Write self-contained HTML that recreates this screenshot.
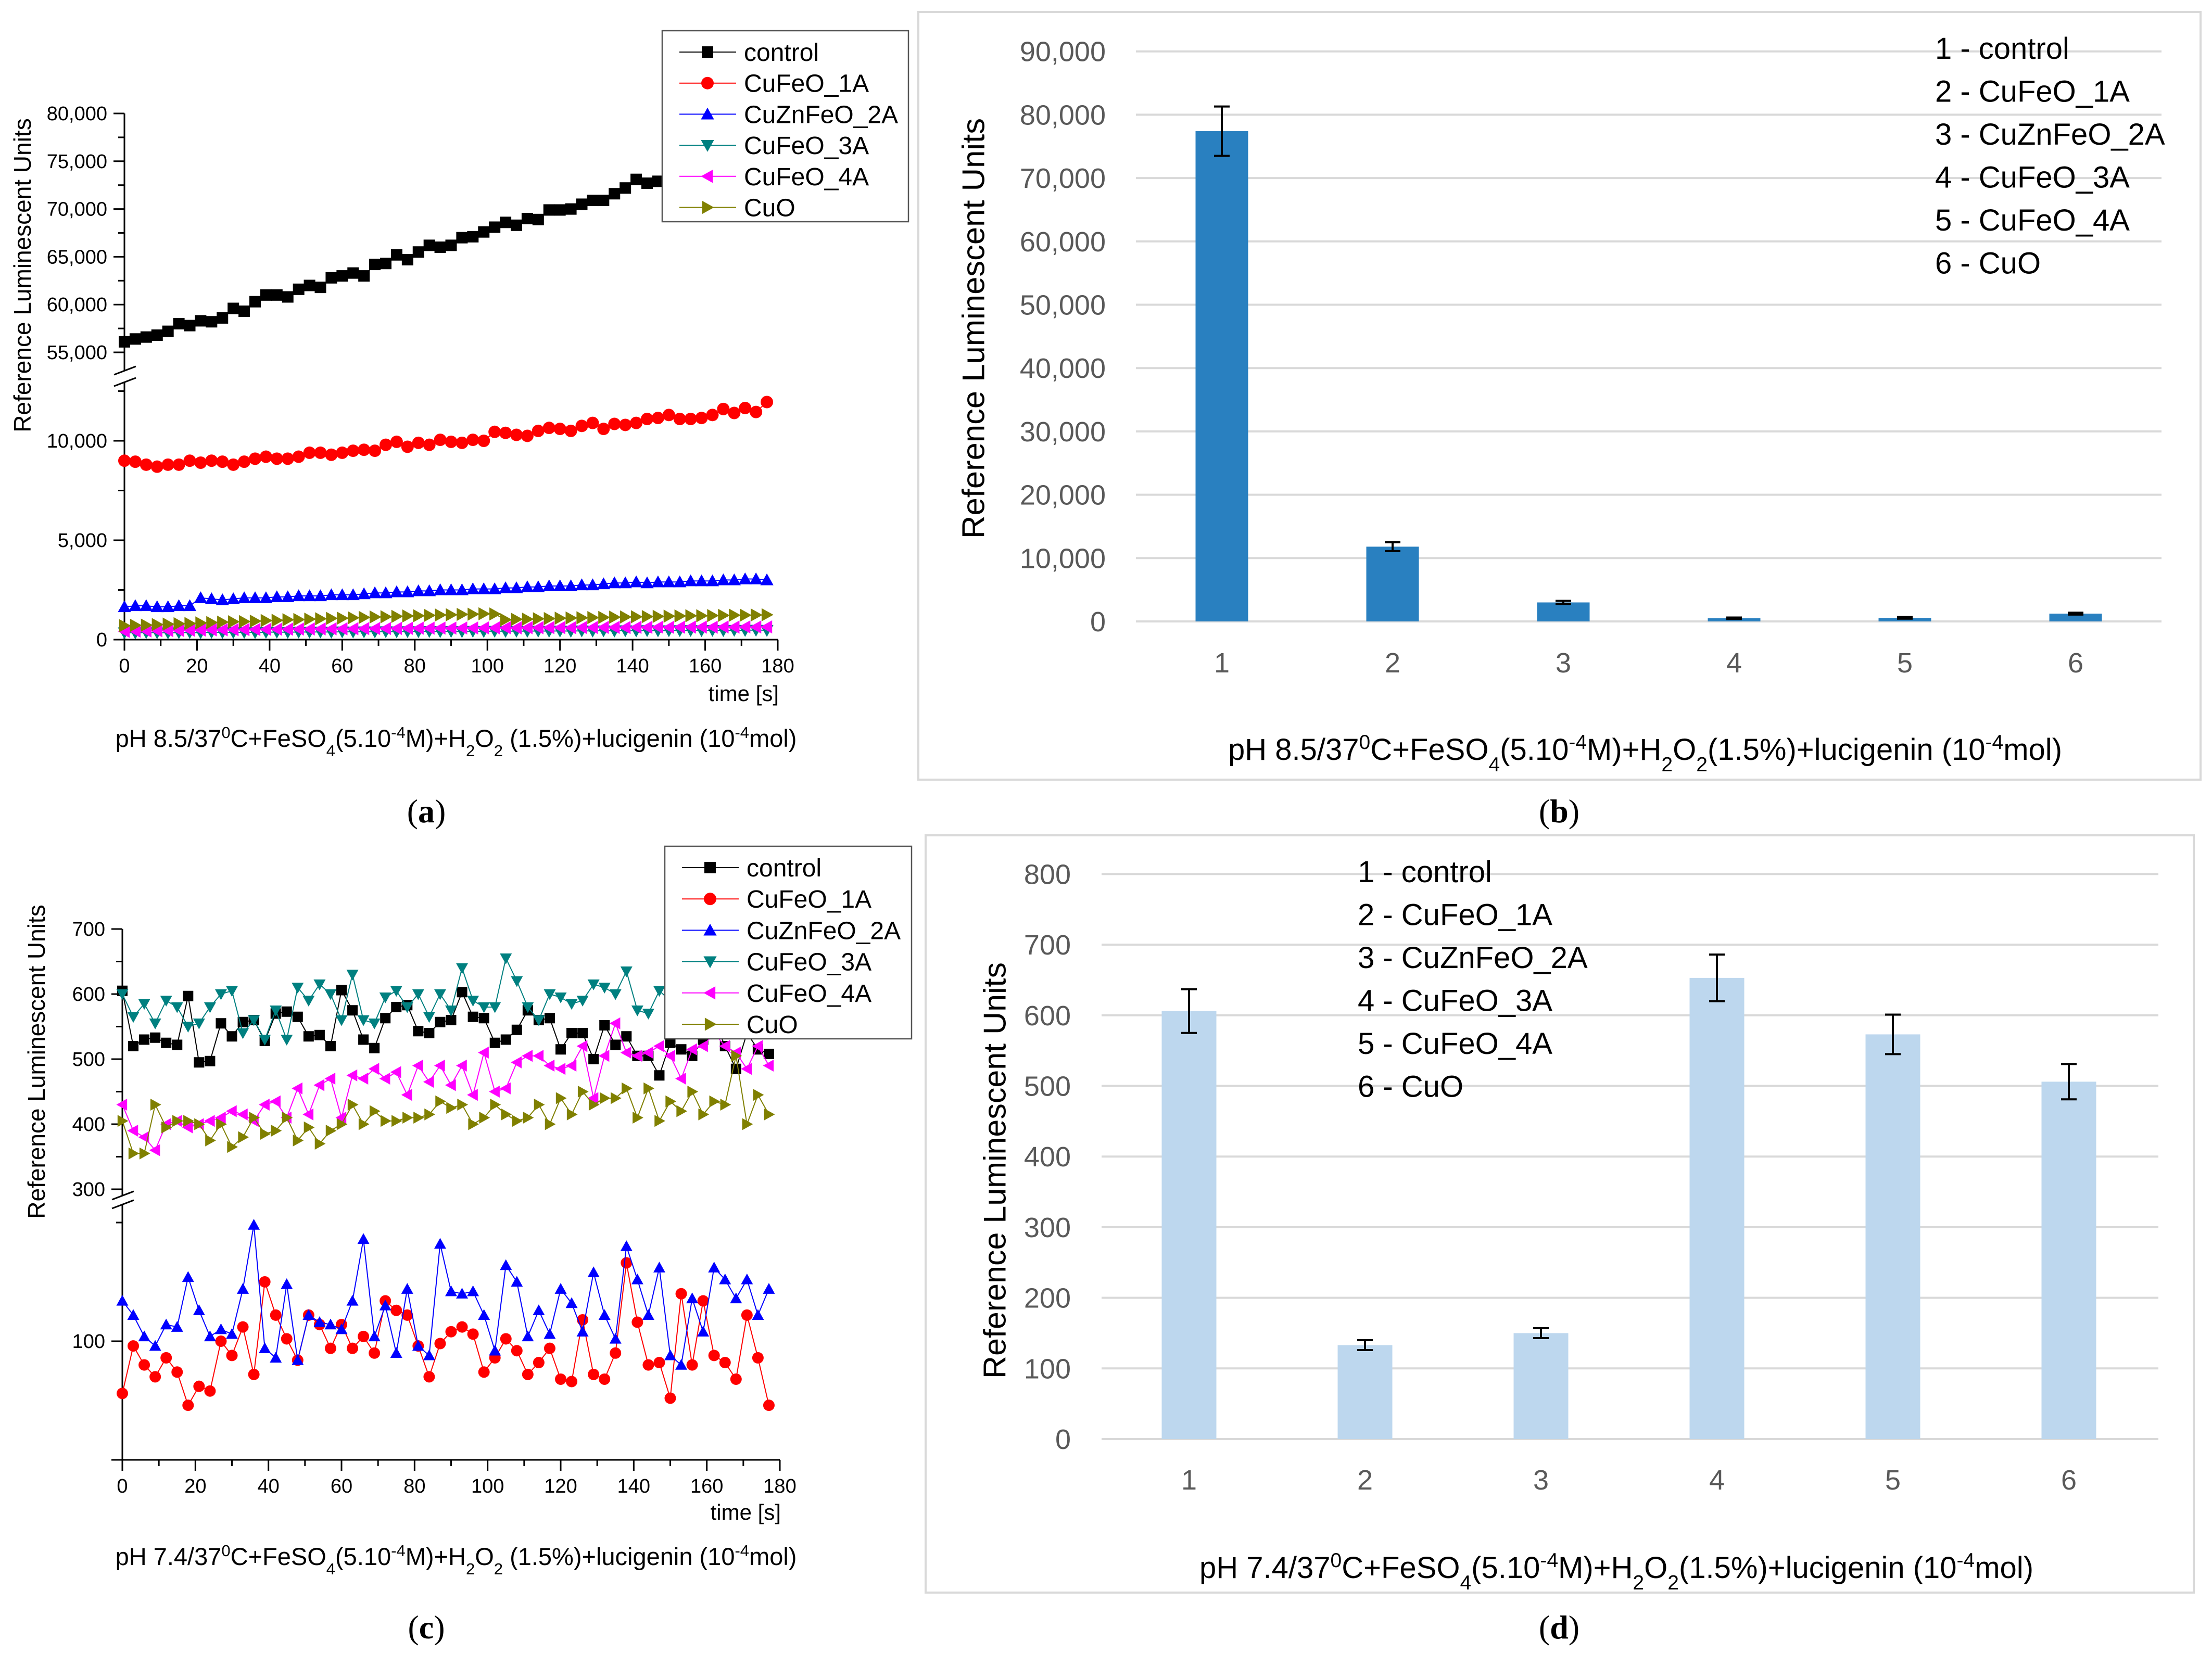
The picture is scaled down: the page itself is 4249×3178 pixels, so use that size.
<!DOCTYPE html>
<html><head><meta charset="utf-8"><title>Chemiluminescence charts</title>
<style>
html,body{margin:0;padding:0;background:#fff;}
svg{display:block;}
text{font-family:"Liberation Sans",Arial,sans-serif;}
.serif{font-family:"Liberation Serif","Times New Roman",serif;}
</style></head>
<body>
<svg id="chart" xmlns="http://www.w3.org/2000/svg" width="4249" height="3178" viewBox="0 0 4249 3178">
<rect x="0" y="0" width="4249" height="3178" fill="#fff"/>
<g id="pa"></g>
<g id="pb"></g>
<g id="pc"></g>
<g id="pd"></g>

<text x="43" y="529" transform="rotate(-90 43 529)" text-anchor="middle" dominant-baseline="central" font-size="46" fill="#000">Reference Luminescent Units</text>
<text x="1496" y="1347" text-anchor="end" font-size="42">time [s]</text>
<text x="876" y="1435" text-anchor="middle" font-size="47">pH 8.5/37<tspan baseline-shift="super" font-size="31">0</tspan>C+FeSO<tspan baseline-shift="sub" font-size="31">4</tspan>(5.10<tspan baseline-shift="super" font-size="31">-4</tspan>M)+H<tspan baseline-shift="sub" font-size="31">2</tspan>O<tspan baseline-shift="sub" font-size="31">2</tspan> (1.5%)+lucigenin (10<tspan baseline-shift="super" font-size="31">-4</tspan>mol)</text>
<text x="819" y="1580" text-anchor="middle" font-size="64" class="serif">(<tspan font-weight="bold">a</tspan>)</text>

<text x="70" y="2040" transform="rotate(-90 70 2040)" text-anchor="middle" dominant-baseline="central" font-size="46">Reference Luminescent Units</text>
<text x="1500" y="2920" text-anchor="end" font-size="42">time [s]</text>
<text x="876" y="3007" text-anchor="middle" font-size="47">pH 7.4/37<tspan baseline-shift="super" font-size="31">0</tspan>C+FeSO<tspan baseline-shift="sub" font-size="31">4</tspan>(5.10<tspan baseline-shift="super" font-size="31">-4</tspan>M)+H<tspan baseline-shift="sub" font-size="31">2</tspan>O<tspan baseline-shift="sub" font-size="31">2</tspan> (1.5%)+lucigenin (10<tspan baseline-shift="super" font-size="31">-4</tspan>mol)</text>
<text x="819" y="3148" text-anchor="middle" font-size="64" class="serif">(<tspan font-weight="bold">c</tspan>)</text>

<text x="1870" y="631" transform="rotate(-90 1870 631)" text-anchor="middle" dominant-baseline="central" font-size="60" textLength="808" lengthAdjust="spacingAndGlyphs" fill="#000">Reference Luminescent Units</text>
<text x="3160" y="1460" text-anchor="middle" font-size="58">pH 8.5/37<tspan baseline-shift="super" font-size="39">0</tspan>C+FeSO<tspan baseline-shift="sub" font-size="39">4</tspan>(5.10<tspan baseline-shift="super" font-size="39">-4</tspan>M)+H<tspan baseline-shift="sub" font-size="39">2</tspan>O<tspan baseline-shift="sub" font-size="39">2</tspan>(1.5%)+lucigenin (10<tspan baseline-shift="super" font-size="39">-4</tspan>mol)</text>
<text x="2995" y="1580" text-anchor="middle" font-size="64" class="serif">(<tspan font-weight="bold">b</tspan>)</text>

<text x="1911" y="2249" transform="rotate(-90 1911 2249)" text-anchor="middle" dominant-baseline="central" font-size="60" textLength="800" lengthAdjust="spacingAndGlyphs">Reference Luminescent Units</text>
<text x="3105" y="3032" text-anchor="middle" font-size="58">pH 7.4/37<tspan baseline-shift="super" font-size="39">0</tspan>C+FeSO<tspan baseline-shift="sub" font-size="39">4</tspan>(5.10<tspan baseline-shift="super" font-size="39">-4</tspan>M)+H<tspan baseline-shift="sub" font-size="39">2</tspan>O<tspan baseline-shift="sub" font-size="39">2</tspan>(1.5%)+lucigenin (10<tspan baseline-shift="super" font-size="39">-4</tspan>mol)</text>
<text x="2995" y="3148" text-anchor="middle" font-size="64" class="serif">(<tspan font-weight="bold">d</tspan>)</text>
</svg>
<script>
const seriesNames = ["control","CuFeO_1A","CuZnFeO_2A","CuFeO_3A","CuFeO_4A","CuO"];
const seriesColors = ["#000000","#ff0000","#0000ff","#008080","#ff00ff","#808000"];
const seriesShapes = ["square","circle","up","down","left","right"];
const timeStep = 3;
const xTicksTime = [0,20,40,60,80,100,120,140,160,180];

const aControl = [56100,56400,56600,56800,57200,58000,57800,58300,58200,58600,59600,59300,60300,61000,61000,60800,61600,62000,61800,62800,63000,63300,63000,64200,64300,65200,64700,65500,66200,66000,66200,67000,67100,67600,68100,68600,68300,69000,68900,69900,69900,70000,70500,70900,70900,71600,72200,73100,72700,72900,73300,73600,73800,74200,74300,74700,75000,75300,75600,76000];
const aCuFeO1A = [9000,8950,8800,8700,8800,8800,9000,8900,9000,8950,8800,8950,9100,9200,9100,9100,9200,9400,9400,9300,9400,9500,9550,9500,9800,9950,9700,9900,9800,10050,9950,9900,10050,10000,10450,10400,10300,10250,10500,10650,10600,10500,10750,10900,10600,10850,10800,10900,11100,11150,11300,11100,11100,11150,11300,11600,11400,11650,11450,11950];
const aCuZnFeO2A = [1650,1700,1700,1650,1650,1700,1700,2100,2050,2000,2050,2100,2100,2100,2150,2150,2200,2200,2200,2250,2250,2250,2300,2350,2350,2400,2400,2450,2450,2500,2500,2500,2550,2550,2550,2600,2600,2650,2650,2700,2700,2700,2750,2750,2800,2850,2850,2900,2850,2900,2900,2900,2950,2950,2950,3000,3000,3050,3050,3000];
const aCuFeO3A = [350,340,360,350,345,355,360,350,370,360,365,370,360,375,380,370,385,380,390,380,395,390,400,395,405,400,410,405,415,410,420,410,425,415,430,420,430,425,435,430,440,430,445,435,450,440,455,445,460,450,455,460,465,455,470,460,475,470,480,470];
const aCuFeO4A = [420,430,440,450,455,460,470,480,490,495,500,505,510,515,520,525,530,535,540,545,545,550,555,560,560,565,570,575,575,580,580,585,585,590,590,595,590,600,600,605,605,600,610,610,615,615,610,620,620,625,620,625,630,630,625,635,630,640,635,640];
const aCuO = [700,720,730,760,780,800,810,840,860,880,900,910,930,960,970,1000,1010,1030,1050,1070,1080,1100,1120,1140,1150,1170,1190,1200,1220,1240,1250,1270,1280,1300,1290,1000,1020,1030,1050,1060,1080,1090,1100,1110,1120,1130,1140,1150,1160,1170,1180,1190,1200,1200,1210,1220,1230,1230,1240,1250];
const aUpperTicks = [55000,60000,65000,70000,75000,80000];
const aLowerTicks = [0,5000,10000];

const cControl = [605,520,530,533,525,522,597,495,497,555,535,557,560,528,570,573,565,535,537,520,606,575,530,517,563,580,583,543,540,557,560,603,565,563,525,530,545,575,560,563,515,540,540,500,552,522,535,505,505,475,525,515,505,530,560,520,485,540,515,508];
const cCuFeO1A = [78,98,90,85,93,87,73,81,79,100,94,106,86,125,111,101,92,111,107,97,107,97,102,95,117,113,111,98,85,99,104,106,103,87,93,101,96,86,91,97,84,83,109,86,84,95,133,108,90,91,76,120,90,117,94,91,84,111,93,73];
const cCuZnFeO2A = [117,111,102,98,107,106,127,113,102,105,103,122,149,97,93,124,92,111,108,107,105,117,143,102,115,95,122,98,94,141,121,120,121,111,96,132,125,102,113,103,122,116,104,129,111,101,140,126,111,131,94,90,118,104,131,126,118,126,111,122];
const cCuFeO3A = [600,565,585,555,590,580,550,555,580,600,605,540,560,530,575,530,610,590,615,600,560,630,560,555,595,605,580,600,565,600,575,640,590,580,580,655,620,580,560,600,595,585,590,615,610,600,635,575,570,605,590,600,590,560,595,600,585,590,610,580];
const cCuFeO4A = [430,390,380,360,400,405,395,400,405,410,420,415,405,430,435,410,455,415,460,470,410,475,470,485,470,480,445,490,465,490,460,490,445,510,450,455,495,505,505,490,485,490,520,440,505,555,510,505,510,520,505,470,515,520,540,520,510,485,520,490];
const cCuO = [405,355,355,430,395,405,405,400,375,400,365,380,410,385,390,410,375,395,370,390,400,430,400,420,405,405,410,410,415,435,425,430,400,410,430,415,405,410,430,400,440,415,450,430,440,440,455,410,455,405,435,420,450,415,435,430,505,400,445,415];
const cUpperTicks = [300,400,500,600,700];
const cLowerTicks = [100];

const barCategories = ["1","2","3","4","5","6"];
const legendItems = ["1 - control","2 - CuFeO_1A","3 - CuZnFeO_2A","4 - CuFeO_3A","5 - CuFeO_4A","6 - CuO"];
const bValues = [77400,11800,3000,500,560,1230];
const bErrors = [3900,700,250,120,130,150];
const bTicks = [0,10000,20000,30000,40000,50000,60000,70000,80000,90000];
const dValues = [606,133,150,653,573,506];
const dErrors = [31,7,7,33,28,25];
const dTicks = [0,100,200,300,400,500,600,700,800];

const NS = "http://www.w3.org/2000/svg";
function mk(tag, attrs, parent){
  const e = document.createElementNS(NS, tag);
  for (const k in attrs) e.setAttribute(k, attrs[k]);
  parent.appendChild(e);
  return e;
}
function fmt(v){ return v.toLocaleString("en-US"); }
function marker(parent, shape, cx, cy, s, color){
  let e;
  const h = s/2;
  if (shape === "square") e = mk("rect", {x:cx-h, y:cy-h, width:s, height:s, fill:color}, parent);
  else if (shape === "circle") e = mk("circle", {cx:cx, cy:cy, r:h+1, fill:color}, parent);
  else {
    let p;
    const t = h*1.15;
    if (shape === "up") p = [[cx,cy-t],[cx+t,cy+t*0.8],[cx-t,cy+t*0.8]];
    else if (shape === "down") p = [[cx,cy+t],[cx+t,cy-t*0.8],[cx-t,cy-t*0.8]];
    else if (shape === "left") p = [[cx-t,cy],[cx+t*0.8,cy-t],[cx+t*0.8,cy+t]];
    else p = [[cx+t,cy],[cx-t*0.8,cy-t],[cx-t*0.8,cy+t]];
    e = mk("polygon", {points:p.map(q=>q.join(",")).join(" "), fill:color}, parent);
  }
  return e;
}

function linePanel(cfg){
  const g = document.getElementById(cfg.id);
  const xs = t => cfg.x0 + t*(cfg.x1-cfg.x0)/180;
  const ys = v => v >= cfg.splitAt ? cfg.yUpRef - (v-cfg.upRef)*cfg.upScale : cfg.yLoRef - (v-cfg.loRef)*cfg.loScale;
  const ax1 = mk("line", {x1:cfg.x0, y1:cfg.upTop, x2:cfg.x0, y2:cfg.upBottom, stroke:"#000","stroke-width":3}, g);
  
  
  const ax2 = mk("line", {x1:cfg.x0, y1:cfg.loTop, x2:cfg.x0, y2:cfg.yBase, stroke:"#000","stroke-width":3}, g);
  
  
  const brk = mk("path", {d:`M${cfg.x0-20},${cfg.upBottom+8} L${cfg.x0+22},${cfg.upBottom-8} M${cfg.x0-20},${cfg.loTop+8} L${cfg.x0+22},${cfg.loTop-8}`, stroke:"#000","stroke-width":3, fill:"none"}, g);
  
  
  const xa = mk("line", {x1:cfg.x0-21, y1:cfg.yBase, x2:cfg.x1, y2:cfg.yBase, stroke:"#000","stroke-width":3}, g);
  
  
  xTicksTime.forEach((t,i)=>{
    const x = xs(t);
    const tk = mk("line", {x1:x, y1:cfg.yBase, x2:x, y2:cfg.yBase+21, stroke:"#000","stroke-width":3}, g);
    
    
    if (i < xTicksTime.length-1) {
      const mt = mk("line", {x1:xs(t+10), y1:cfg.yBase, x2:xs(t+10), y2:cfg.yBase+12, stroke:"#000","stroke-width":3}, g);
      
      
    }
    const lb = mk("text", {x:x, y:cfg.yBase+63, "text-anchor":"middle","font-size":38}, g);
    lb.textContent = t;
    
    
  });
  const yt = (v, label) => {
    const y = ys(v);
    const tk = mk("line", {x1:cfg.x0-21, y1:y, x2:cfg.x0, y2:y, stroke:"#000","stroke-width":3}, g);
    
    
    const lb = mk("text", {x:cfg.x0-33, y:y+13, "text-anchor":"end","font-size":38}, g);
    lb.textContent = label;
    
    
  };
  cfg.upTicks.forEach(v=>yt(v, fmt(v)));
  cfg.loTicks.forEach(v=>yt(v, fmt(v)));
  cfg.minor.forEach(v=>{
    const y = ys(v);
    const mt = mk("line", {x1:cfg.x0-12, y1:y, x2:cfg.x0, y2:y, stroke:"#000","stroke-width":3}, g);
    
    
  });
  cfg.series.forEach((vals, si)=>{
    const sg = mk("g", {}, g);
    
    
    const pts = vals.map((v,i)=>[xs(i*timeStep), ys(v)]);
    const pl = mk("polyline", {points:pts.map(p=>p.join(",")).join(" "), fill:"none", stroke:seriesColors[si], "stroke-width":2}, sg);
    
    
    pts.forEach(p=>{
      const m = marker(sg, seriesShapes[si], p[0], p[1], cfg.ms, seriesColors[si]);
      
      
    });
  });
  const lg = mk("g", {}, g);
  
  
  mk("rect", {x:cfg.lx, y:cfg.ly, width:cfg.lw, height:cfg.lh, fill:"#fff", stroke:"#555","stroke-width":2.5}, lg);
  seriesNames.forEach((n,i)=>{
    const cy = cfg.ly + 41 + i*cfg.lstep;
    const ln = mk("line", {x1:cfg.lx+33, y1:cy, x2:cfg.lx+142, y2:cy, stroke:seriesColors[i], "stroke-width":2}, lg);
    
    
    const m = marker(lg, seriesShapes[i], cfg.lx+87, cy, 22, seriesColors[i]);
    
    
    const tx = mk("text", {x:cfg.lx+157, y:cy+17, "font-size":48}, lg);
    tx.textContent = n;
    
    
  });
}

linePanel({id:"pa", x0:239, x1:1494, yBase:1229,
  splitAt:30000, upRef:55000, yUpRef:677, upScale:91.8/5000, loRef:0, yLoRef:1229, loScale:191/5000,
  upTop:218, upBottom:712, loTop:734,
  upTicks:aUpperTicks, loTicks:aLowerTicks, minor:[57500,62500,67500,72500,77500,2500,7500,12500],
  series:[aControl,aCuFeO1A,aCuZnFeO2A,aCuFeO3A,aCuFeO4A,aCuO], ms:22,
  lx:1272, ly:59, lw:473, lh:367, lstep:59.7});

linePanel({id:"pc", x0:235, x1:1498, yBase:2805,
  splitAt:250, upRef:300, yUpRef:2285, upScale:1.25, loRef:100, yLoRef:2577, loScale:4.56,
  upTop:1785, upBottom:2297, loTop:2314,
  upTicks:cUpperTicks, loTicks:cLowerTicks, minor:[350,450,550,650,150],
  series:[cControl,cCuFeO1A,cCuZnFeO2A,cCuFeO3A,cCuFeO4A,cCuO], ms:20,
  lx:1277, ly:1626, lw:474, lh:370, lstep:60.2});

function barPanel(cfg){
  const g = document.getElementById(cfg.id);
  const ys = v => cfg.y0 - v*cfg.scale;
  const xs = i => cfg.xFirst + i*cfg.step;
  const box = mk("rect", {x:cfg.bx, y:cfg.by, width:cfg.bw, height:cfg.bh, fill:"#fff", stroke:"#d9d9d9","stroke-width":4}, g);
  
  
  cfg.ticks.forEach(v=>{
    const y = ys(v);
    const gl = mk("line", {x1:cfg.gx0, y1:y, x2:cfg.gx1, y2:y, stroke:"#d9d9d9","stroke-width":4}, g);
    
    
    const lb = mk("text", {x:cfg.lblX, y:y+19, "text-anchor":"end","font-size":54, fill:"#595959"}, g);
    lb.textContent = fmt(v);
    
    
  });
  cfg.values.forEach((v,i)=>{
    const cx = xs(i);
    const r = mk("rect", {x:cx-cfg.bwid/2, y:ys(v), width:cfg.bwid, height:cfg.y0-ys(v), fill:cfg.color}, g);
    
    
    const e = cfg.errors[i];
    const eb = mk("path", {d:`M${cx},${ys(v+e)} L${cx},${ys(v-e)} M${cx-15},${ys(v+e)} L${cx+15},${ys(v+e)} M${cx-15},${ys(v-e)} L${cx+15},${ys(v-e)}`, stroke:"#000","stroke-width":4, fill:"none"}, g);
    
    
    const lb = mk("text", {x:cx, y:cfg.catY, "text-anchor":"middle","font-size":54, fill:"#595959"}, g);
    lb.textContent = barCategories[i];
    
    
  });
  const lg = mk("g", {}, g);
  
  
  legendItems.forEach((t,i)=>{
    const tx = mk("text", {x:cfg.legX, y:cfg.legY + i*82.5, "font-size":58}, lg);
    tx.textContent = t;
    
    
  });
}

barPanel({id:"pb", y0:1194, scale:121.7/10000, xFirst:2347, step:328, bwid:101, color:"#2980c0",
  ticks:bTicks, values:bValues, errors:bErrors, gx0:2182, gx1:4152, lblX:2124, catY:1292,
  bx:1764, by:23, bw:2463, bh:1475, legX:3717, legY:113});

barPanel({id:"pd", y0:2765, scale:1.357, xFirst:2284, step:338, bwid:105, color:"#bdd7ee",
  ticks:dTicks, values:dValues, errors:dErrors, gx0:2116, gx1:4146, lblX:2057, catY:2862,
  bx:1778, by:1605, bw:2436, bh:1455, legX:2608, legY:1695});
</script>
</body></html>
